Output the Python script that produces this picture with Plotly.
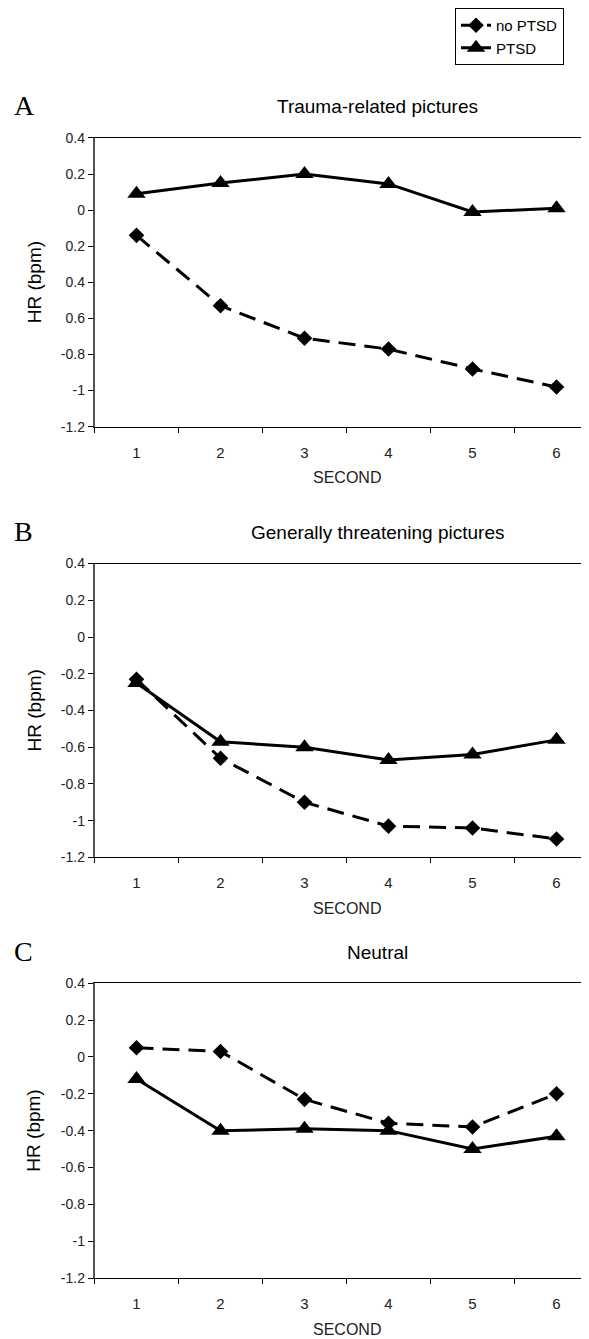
import plotly.graph_objects as go

# The page adds an 8px body margin, so the figure is drawn 8px smaller and
# all reference pixel positions are shifted by that offset.
PAGE_W, PAGE_H = 589, 1339
OFF = 8
W, H = PAGE_W - OFF, PAGE_H - OFF

seconds = [1, 2, 3, 4, 5, 6]

panel_letters = ["A", "B", "C"]
panel_titles = ["Trauma-related pictures", "Generally threatening pictures", "Neutral"]

a_no_ptsd = [-0.14, -0.53, -0.71, -0.77, -0.88, -0.98]
a_ptsd = [0.09, 0.15, 0.20, 0.145, -0.01, 0.01]

b_no_ptsd = [-0.23, -0.66, -0.90, -1.03, -1.04, -1.10]
b_ptsd = [-0.25, -0.57, -0.60, -0.67, -0.64, -0.56]

c_no_ptsd = [0.05, 0.03, -0.23, -0.36, -0.38, -0.20]
c_ptsd = [-0.12, -0.40, -0.39, -0.40, -0.50, -0.43]

y_tickvals = [0.4, 0.2, 0, -0.2, -0.4, -0.6, -0.8, -1, -1.2]
y_ticktext_a = ["0.4", "0.2", "0", "0.2", "0.4", "0.6", "-0.8", "-1", "-1.2"]
y_ticktext = ["0.4", "0.2", "0", "-0.2", "-0.4", "-0.6", "-0.8", "-1", "-1.2"]
x_ticktext = ["1", "2", "3", "4", "5", "6"]

series_no = [a_no_ptsd, b_no_ptsd, c_no_ptsd]
series_pt = [a_ptsd, b_ptsd, c_ptsd]

# page-pixel geometry of each plot area (top = 0.4, bottom = -1.2)
plot_top = [137, 563, 983]
plot_bot = [426, 857, 1278]
plot_left = 94.5
cat_px = 84.0


def py(p):
    return 1 - (p - OFF) / H


def px(p):
    return (p - OFF) / W


fig = go.Figure()
FONT = "Liberation Sans, Arial, sans-serif"

for i in range(3):
    ax = "" if i == 0 else str(i + 1)
    fig.add_trace(go.Scatter(
        x=seconds, y=series_no[i], name="no PTSD", mode="lines+markers",
        line=dict(color="black", width=3, dash="17px,9px"),
        marker=dict(symbol="diamond", size=12, color="black"),
        xaxis="x" + ax, yaxis="y" + ax, showlegend=(i == 0)))
    fig.add_trace(go.Scatter(
        x=seconds, y=series_pt[i], name="PTSD", mode="lines+markers",
        line=dict(color="black", width=3),
        marker=dict(symbol="triangle-up", size=16, color="black"),
        xaxis="x" + ax, yaxis="y" + ax, showlegend=(i == 0)))

    xa = dict(
        domain=[px(plot_left), 1.0],
        range=[0.5, 0.5 + (PAGE_W - plot_left) / cat_px],
        tickmode="array", tickvals=seconds, ticktext=x_ticktext,
        ticks="outside", ticklen=12, tickcolor="rgba(0,0,0,0)",
        minor=dict(tickmode="array", tickvals=[0.5, 1.5, 2.5, 3.5, 4.5, 5.5],
                   ticks="outside", ticklen=5, tickcolor="black", tickwidth=1),
        showline=True, linecolor="black", linewidth=1, mirror=True,
        showgrid=False, zeroline=False, fixedrange=True,
        tickfont=dict(family=FONT, size=15, color="#222"),
        anchor="y" + ax, automargin=False)
    ya = dict(
        domain=[py(plot_bot[i]), py(plot_top[i])], range=[-1.2, 0.4],
        tickmode="array", tickvals=y_tickvals,
        ticktext=(y_ticktext_a if i == 0 else y_ticktext),
        ticks="outside", ticklen=5, tickcolor="black", tickwidth=1,
        showline=True, linecolor="#555", linewidth=1.5,
        showgrid=False, zeroline=False, fixedrange=True,
        tickfont=dict(family=FONT, size=14, color="#222"),
        anchor="x" + ax, automargin=False)
    fig.update_layout(**{"xaxis" + ax: xa, "yaxis" + ax: ya})

    mid = (plot_top[i] + plot_bot[i]) / 2
    ann = [
        dict(text=panel_letters[i], x=px(12), y=py(plot_top[i] - 32), xanchor="left", yanchor="middle",
             font=dict(family="Liberation Serif, Times New Roman, serif", size=28, color="black")),
        dict(text=panel_titles[i], x=px(377), y=py(plot_top[i] - 31),
             xanchor="center", yanchor="middle",
             font=dict(family=FONT, size=19, color="black")),
        dict(text="HR (bpm)", x=px(34), y=py(mid), xanchor="center", yanchor="middle", textangle=-90,
             font=dict(family=FONT, size=19, color="black")),
        dict(text="SECOND", x=px(347), y=py(plot_bot[i] + 51), xanchor="center", yanchor="middle",
             font=dict(family=FONT, size=16, color="#222")),
    ]
    for a in ann:
        a.update(xref="paper", yref="paper", showarrow=False)
        fig.add_annotation(**a)

fig.update_layout(
    width=W, height=H,
    margin=dict(l=0, r=0, t=0, b=0),
    paper_bgcolor="white", plot_bgcolor="white",
    font=dict(family=FONT, color="black"),
    legend=dict(x=px(455), y=py(7), xanchor="left", yanchor="top",
                bordercolor="black", borderwidth=1, bgcolor="white",
                font=dict(family=FONT, size=15, color="black"),
                tracegroupgap=0, itemwidth=30),
)

fig.write_html("out.html")
